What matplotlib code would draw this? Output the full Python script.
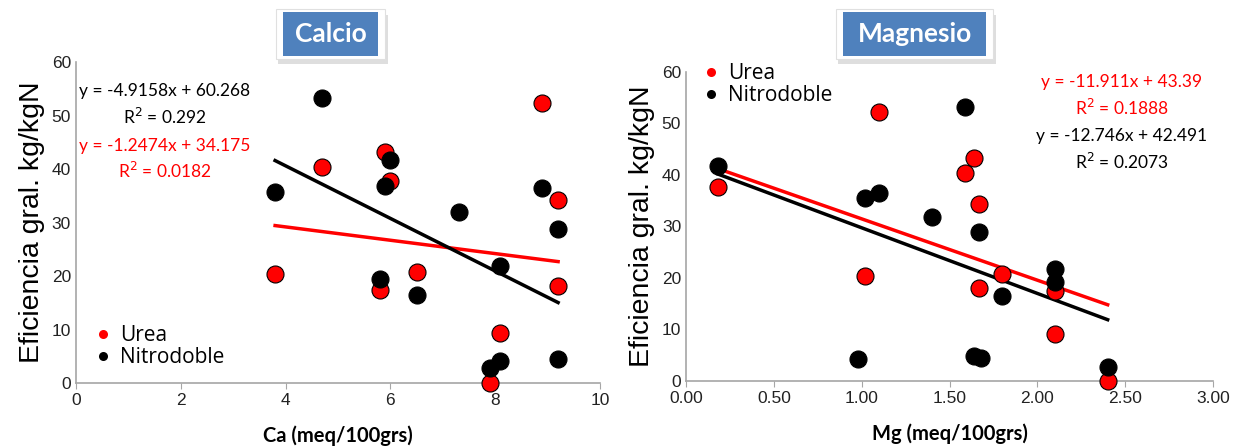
import matplotlib.pyplot as plt
from matplotlib.patches import FancyBboxPatch
from matplotlib.lines import Line2D
import numpy as np

# Calcio panel
ca_urea_x = [3.8, 4.7, 5.9, 6.0, 5.8, 6.5, 8.9, 9.2, 9.2, 8.1, 7.9]
ca_urea_y = [20.3, 40.3, 43.2, 37.8, 17.4, 20.7, 52.3, 34.3, 18.2, 9.3, 0.0]
ca_nitro_x = [3.8, 4.7, 5.9, 6.0, 5.8, 6.5, 7.3, 8.9, 9.2, 8.1, 8.1, 7.9, 9.2]
ca_nitro_y = [35.7, 53.2, 36.8, 41.6, 19.4, 16.5, 31.9, 36.4, 28.8, 21.9, 4.2, 2.9, 4.5]
ca_fit_urea = (-1.2474, 34.175, 0.0182)
ca_fit_nitro = (-4.9158, 60.268, 0.292)

# Magnesio panel
mg_urea_x = [0.18, 1.02, 1.10, 1.59, 1.64, 1.67, 1.67, 1.80, 2.10, 2.10, 2.40]
mg_urea_y = [37.7, 20.3, 52.3, 40.3, 43.3, 34.4, 18.1, 20.7, 17.4, 9.2, 0.0]
mg_nitro_x = [0.18, 1.02, 1.10, 1.40, 1.59, 1.67, 1.80, 2.10, 2.10, 1.64, 1.68, 0.98, 2.40]
mg_nitro_y = [41.8, 35.5, 36.5, 31.8, 53.2, 28.9, 16.5, 21.8, 19.2, 4.8, 4.5, 4.2, 2.8]
mg_fit_urea = (-11.911, 43.39, 0.1888)
mg_fit_nitro = (-12.746, 42.491, 0.2073)

RED = '#ff0000'
BLUE = '#4f81bd'
GRAY = '#a6a6a6'

plt.rcParams['font.family'] = ['Liberation Sans', 'DejaVu Sans']

fig = plt.figure(figsize=(12.41, 4.48), dpi=100)
ax1 = fig.add_axes([0.0612, 0.1450, 0.4223, 0.7165])
ax2 = fig.add_axes([0.5528, 0.1496, 0.4247, 0.6897])


def fit_line(ax, xs, fit, color):
    xx = np.array([min(xs), max(xs)])
    ax.plot(xx, fit[0] * xx + fit[1], color=color, lw=2.5, zorder=2)


def eq_text(fit):
    return 'y = %gx + %g\nR$^2$ = %g' % (fit[0], fit[1], fit[2])


def style(ax, xlabel, xticks, fmt):
    ax.set_ylim(0, 60)
    ax.set_yticks(range(0, 61, 10))
    ax.set_xlim(xticks[0], xticks[-1])
    ax.set_xticks(xticks)
    ax.set_xticklabels([fmt % t for t in xticks])
    for s in ['top', 'right']:
        ax.spines[s].set_visible(False)
    for s in ['left', 'bottom']:
        ax.spines[s].set_color(GRAY)
        ax.spines[s].set_linewidth(1.2)
    ax.tick_params(axis='both', colors=GRAY, labelcolor='#222222', labelsize=12.5,
                   direction='out', length=4)
    ax.tick_params(axis='y', length=0)
    ax.set_xlabel(xlabel, fontsize=14.5, fontweight='bold', family='Lato', labelpad=12)
    ax.set_ylabel('Eficiencia gral. kg/kgN', fontsize=20.5, labelpad=5)
    ax.margins(0)


def scatter(ax, ux, uy, nx, ny):
    ax.scatter(ux, uy, s=150, c=RED, edgecolors='black', linewidths=0.8, zorder=3,
               clip_on=False)
    ax.scatter(nx, ny, s=150, c='black', edgecolors='black', linewidths=0.8, zorder=3,
               clip_on=False)


def legend(ax, **kw):
    handles = [Line2D([], [], ls='none', marker='o', ms=6.5, mfc=RED, mec='none'),
               Line2D([], [], ls='none', marker='o', ms=6.5, mfc='black', mec='none')]
    ax.legend(handles, ['Urea', 'Nitrodoble'], frameon=False, handletextpad=0.2,
              handlelength=1.2, labelspacing=0.05, prop={'family': 'Open Sans', 'size': 15},
              **kw)


def title_box(x, y, w, h, text):
    sh = FancyBboxPatch((x + 0.002, y - 0.012), w, h, boxstyle='square,pad=0.006',
                        transform=fig.transFigure, fc='#d0d0d0', ec='none', alpha=0.7)
    fr = FancyBboxPatch((x, y), w, h, boxstyle='square,pad=0.006',
                        transform=fig.transFigure, fc='white', ec='#e0e0e0', lw=0.8)
    bx = FancyBboxPatch((x, y), w, h, boxstyle='square,pad=0',
                        transform=fig.transFigure, fc=BLUE, ec='none')
    for p in (sh, fr, bx):
        fig.patches.append(p)
    fig.text(x + w / 2, y + h / 2, text, ha='center', va='center', color='white',
             fontsize=19, fontweight='bold', family='Lato')


# left chart
scatter(ax1, ca_urea_x, ca_urea_y, ca_nitro_x, ca_nitro_y)
fit_line(ax1, ca_urea_x, ca_fit_urea, RED)
fit_line(ax1, ca_nitro_x, ca_fit_nitro, 'black')
style(ax1, 'Ca (meq/100grs)', [0, 2, 4, 6, 8, 10], '%d')
ax1.text(1.7, 52.0, eq_text(ca_fit_nitro), ha='center', va='center', fontsize=12.5,
         family='Lato', linespacing=1.45)
ax1.text(1.7, 41.8, eq_text(ca_fit_urea), ha='center', va='center', fontsize=12.5,
         family='Lato', color=RED, linespacing=1.45)
legend(ax1, loc='lower left', bbox_to_anchor=(0.0, 0.0), borderaxespad=0.3)

# right chart
scatter(ax2, mg_urea_x, mg_urea_y, mg_nitro_x, mg_nitro_y)
fit_line(ax2, mg_urea_x, mg_fit_urea, RED)
fit_line(ax2, mg_nitro_x, mg_fit_nitro, 'black')
style(ax2, 'Mg (meq/100grs)', [0, 0.5, 1.0, 1.5, 2.0, 2.5, 3.0], '%.2f')
ax2.text(2.48, 55.3, eq_text(mg_fit_urea), ha='center', va='center', fontsize=12.5,
         family='Lato', color=RED, linespacing=1.45)
ax2.text(2.48, 44.8, eq_text(mg_fit_nitro), ha='center', va='center', fontsize=12.5,
         family='Lato', linespacing=1.45)
legend(ax2, loc='upper left', bbox_to_anchor=(0.0, 1.07), borderaxespad=0.2)

title_box(283 / 1241, 1 - 56 / 448, 95 / 1241, 44 / 448, 'Calcio')
title_box(843 / 1241, 1 - 56 / 448, 143 / 1241, 44 / 448, 'Magnesio')

fig.savefig('out.png', dpi=100)
